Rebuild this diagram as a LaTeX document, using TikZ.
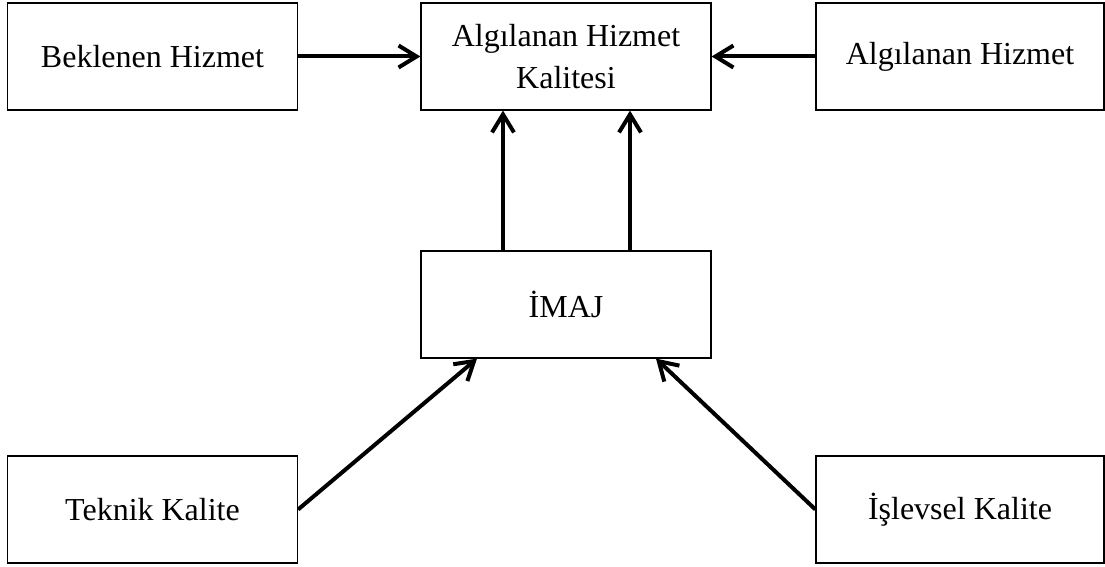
\documentclass[tikz,border=0pt]{standalone}
\usepackage{fontspec}
\setmainfont{Liberation Serif}
\usetikzlibrary{arrows.meta}
\begin{document}
\begin{tikzpicture}[x=0.5pt, y=-0.5pt,
    kutu/.style={draw, line width=0.6pt, inner sep=0pt, minimum width=145pt,
      minimum height=53.5pt, align=center,
      font=\fontsize{16}{21}\selectfont},
    ok/.style={line width=2pt, -{Straight Barb[length=9pt, width=11pt, line width=2pt]}}]
      \useasboundingbox (0, 0) rectangle (1105, 567);
      \node[kutu] (bekl) at (152.5, 56.5) {Beklenen Hizmet};
      \node[kutu] (ahk) at (566, 56.5) {Algılanan Hizmet\\Kalitesi};
      \node[kutu, minimum width=144pt] (ah) at (960, 56.5) {Algılanan Hizmet};
      \node[kutu] (imaj) at (566, 304.5) {İMAJ};
      \node[kutu] (teknik) at (152.5, 509.5) {Teknik Kalite};
      \node[kutu, minimum width=144pt] (islevsel) at (960, 509.5) {İşlevsel Kalite};
      \draw[ok] (bekl.east) -- (ahk.west);
      \draw[ok] (ah.west) -- (ahk.east);
      \draw[ok] ([xshift=-31.5pt]imaj.north) -- ([xshift=-31.5pt]ahk.south);
      \draw[ok] ([xshift=32pt]imaj.north) -- ([xshift=32pt]ahk.south);
      \draw[ok] (teknik.east) -- ([xshift=-44.5pt]imaj.south);
      \draw[ok] (islevsel.west) -- ([xshift=45pt]imaj.south);
    \end{tikzpicture}
\end{document}
